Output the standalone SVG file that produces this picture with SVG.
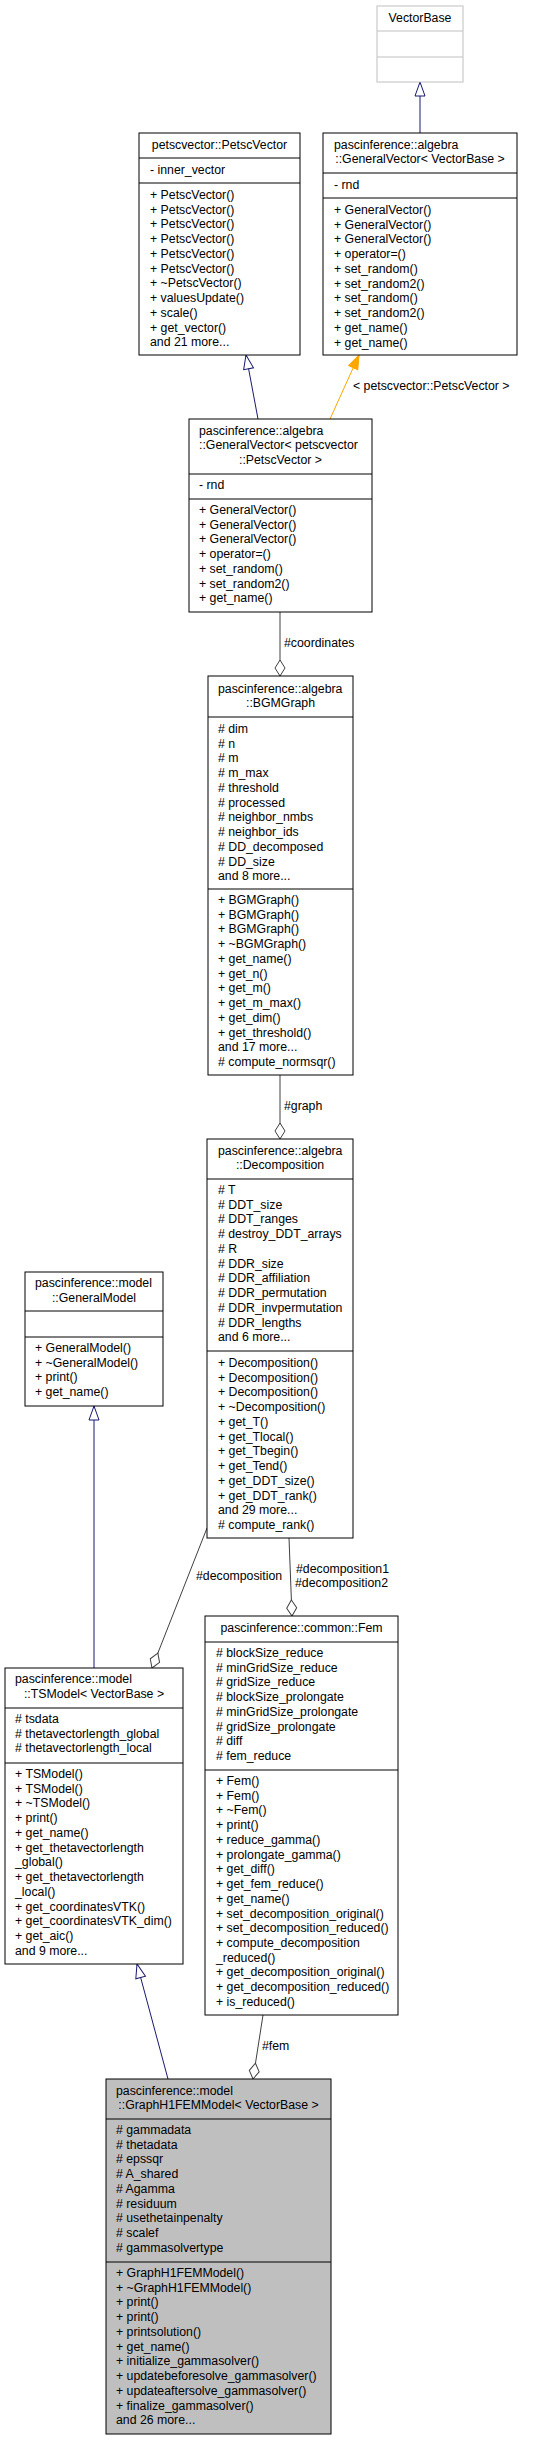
<svg xmlns="http://www.w3.org/2000/svg" width="553" height="2440" viewBox="0 0 553 2440">
<style>
text{font-family:"Liberation Sans",Arial,sans-serif;font-size:12.3px;fill:#000}
.c{text-anchor:middle}
.box{fill:#fff;stroke:#000;stroke-width:1}
.gbox{fill:#fff;stroke:#bfbfbf;stroke-width:1}
.tbox{fill:#bfbfbf;stroke:#000;stroke-width:1}
.div{stroke:#000;stroke-width:1}
.gdiv{stroke:#bfbfbf;stroke-width:1}
.inh{fill:none;stroke:#191970;stroke-width:1;marker-end:url(#mInh)}
.use{fill:none;stroke:#404040;stroke-width:1;marker-end:url(#mDia)}
.tpl{fill:none;stroke:#ffa500;stroke-width:1;marker-end:url(#mTpl)}
</style>
<defs>
<marker id="mInh" viewBox="0 0 14 10" refX="14" refY="5" markerWidth="14" markerHeight="10" markerUnits="userSpaceOnUse" orient="auto" overflow="visible"><path d="M0,0 L14,5 L0,10 Z" fill="#fff" stroke="#191970" stroke-width="1"/></marker>
<marker id="mDia" viewBox="0 0 16 10" refX="16" refY="5" markerWidth="16" markerHeight="10" markerUnits="userSpaceOnUse" orient="auto" overflow="visible"><path d="M0,5 L8,0 L16,5 L8,10 Z" fill="#fff" stroke="#404040" stroke-width="1"/></marker>
<marker id="mTpl" viewBox="0 0 14 10" refX="14" refY="5" markerWidth="14" markerHeight="10" markerUnits="userSpaceOnUse" orient="auto" overflow="visible"><path d="M0,0 L14,5 L0,10 Z" fill="#ffa500" stroke="#ffa500" stroke-width="1"/></marker>
</defs>
<rect width="553" height="2440" fill="#fff"/>

<g id="connectors">
<line class="inh" x1="420" y1="133" x2="420" y2="82"/>
<line class="inh" x1="258" y1="419" x2="246" y2="355"/>
<line class="tpl" x1="330" y1="419" x2="359" y2="355"/>
<text x="353" y="390">&lt; petscvector::PetscVector &gt;</text>
<line class="use" x1="280" y1="612" x2="280" y2="676"/>
<text x="284" y="647">#coordinates</text>
<line class="use" x1="280" y1="1075" x2="280" y2="1139"/>
<text x="284" y="1110">#graph</text>
<line class="inh" x1="94" y1="1668" x2="94" y2="1406"/>
<line class="use" x1="207" y1="1528" x2="152" y2="1668"/>
<text x="196" y="1580">#decomposition</text>
<line class="use" x1="289" y1="1538" x2="292" y2="1616"/>
<text x="296" y="1573">#decomposition1</text>
<text x="295" y="1587">#decomposition2</text>
<line class="inh" x1="168" y1="2079" x2="137" y2="1964"/>
<line class="use" x1="263" y1="2015" x2="253" y2="2079"/>
<text x="262" y="2050">#fem</text>
</g>

<g id="VectorBase">
<rect class="gbox" x="377" y="6" width="86" height="76"/>
<line class="gdiv" x1="377" y1="31" x2="463" y2="31"/>
<line class="gdiv" x1="377" y1="57" x2="463" y2="57"/>
<text class="c" x="420" y="22">VectorBase</text>
</g>

<g id="PetscVector">
<rect class="box" x="139" y="133" width="161" height="222"/>
<text class="c" x="219.5" y="149">petscvector::PetscVector</text>
<line class="div" x1="139" y1="158" x2="300" y2="158"/>
<text x="150" y="174">- inner_vector</text>
<line class="div" x1="139" y1="183" x2="300" y2="183"/>
<text x="150" y="199"><tspan x="150">+ PetscVector()</tspan><tspan x="150" dy="14.73">+ PetscVector()</tspan><tspan x="150" dy="14.73">+ PetscVector()</tspan><tspan x="150" dy="14.73">+ PetscVector()</tspan><tspan x="150" dy="14.73">+ PetscVector()</tspan><tspan x="150" dy="14.73">+ PetscVector()</tspan><tspan x="150" dy="14.73">+ ~PetscVector()</tspan><tspan x="150" dy="14.73">+ valuesUpdate()</tspan><tspan x="150" dy="14.73">+ scale()</tspan><tspan x="150" dy="14.73">+ get_vector()</tspan><tspan x="150" dy="14.73">and 21 more...</tspan></text>
</g>

<g id="GeneralVectorVB">
<rect class="box" x="323" y="133" width="194" height="222"/>
<text x="334" y="149">pascinference::algebra</text>
<text class="c" x="420" y="163">::GeneralVector&lt; VectorBase &gt;</text>
<line class="div" x1="323" y1="173" x2="517" y2="173"/>
<text x="334" y="189">- rnd</text>
<line class="div" x1="323" y1="198" x2="517" y2="198"/>
<text x="334" y="214"><tspan x="334">+ GeneralVector()</tspan><tspan x="334" dy="14.73">+ GeneralVector()</tspan><tspan x="334" dy="14.73">+ GeneralVector()</tspan><tspan x="334" dy="14.73">+ operator=()</tspan><tspan x="334" dy="14.73">+ set_random()</tspan><tspan x="334" dy="14.73">+ set_random2()</tspan><tspan x="334" dy="14.73">+ set_random()</tspan><tspan x="334" dy="14.73">+ set_random2()</tspan><tspan x="334" dy="14.73">+ get_name()</tspan><tspan x="334" dy="14.73">+ get_name()</tspan></text>
</g>

<g id="GeneralVectorPetsc">
<rect class="box" x="189" y="419" width="183" height="193"/>
<text x="199" y="435">pascinference::algebra</text>
<text x="199" y="449">::GeneralVector&lt; petscvector</text>
<text class="c" x="280.5" y="464">::PetscVector &gt;</text>
<line class="div" x1="189" y1="474" x2="372" y2="474"/>
<text x="199" y="489">- rnd</text>
<line class="div" x1="189" y1="499" x2="372" y2="499"/>
<text x="199" y="514"><tspan x="199">+ GeneralVector()</tspan><tspan x="199" dy="14.73">+ GeneralVector()</tspan><tspan x="199" dy="14.73">+ GeneralVector()</tspan><tspan x="199" dy="14.73">+ operator=()</tspan><tspan x="199" dy="14.73">+ set_random()</tspan><tspan x="199" dy="14.73">+ set_random2()</tspan><tspan x="199" dy="14.73">+ get_name()</tspan></text>
</g>

<g id="BGMGraph">
<rect class="box" x="208" y="676" width="145" height="399"/>
<text x="218" y="693">pascinference::algebra</text>
<text class="c" x="280.5" y="707">::BGMGraph</text>
<line class="div" x1="208" y1="717" x2="353" y2="717"/>
<text x="218" y="733"><tspan x="218"># dim</tspan><tspan x="218" dy="14.73"># n</tspan><tspan x="218" dy="14.73"># m</tspan><tspan x="218" dy="14.73"># m_max</tspan><tspan x="218" dy="14.73"># threshold</tspan><tspan x="218" dy="14.73"># processed</tspan><tspan x="218" dy="14.73"># neighbor_nmbs</tspan><tspan x="218" dy="14.73"># neighbor_ids</tspan><tspan x="218" dy="14.73"># DD_decomposed</tspan><tspan x="218" dy="14.73"># DD_size</tspan><tspan x="218" dy="14.73">and 8 more...</tspan></text>
<line class="div" x1="208" y1="889" x2="353" y2="889"/>
<text x="218" y="904"><tspan x="218">+ BGMGraph()</tspan><tspan x="218" dy="14.73">+ BGMGraph()</tspan><tspan x="218" dy="14.73">+ BGMGraph()</tspan><tspan x="218" dy="14.73">+ ~BGMGraph()</tspan><tspan x="218" dy="14.73">+ get_name()</tspan><tspan x="218" dy="14.73">+ get_n()</tspan><tspan x="218" dy="14.73">+ get_m()</tspan><tspan x="218" dy="14.73">+ get_m_max()</tspan><tspan x="218" dy="14.73">+ get_dim()</tspan><tspan x="218" dy="14.73">+ get_threshold()</tspan><tspan x="218" dy="14.73">and 17 more...</tspan><tspan x="218" dy="14.73"># compute_normsqr()</tspan></text>
</g>

<g id="Decomposition">
<rect class="box" x="207" y="1139" width="146" height="399"/>
<text x="218" y="1155">pascinference::algebra</text>
<text class="c" x="280" y="1169">::Decomposition</text>
<line class="div" x1="207" y1="1179" x2="353" y2="1179"/>
<text x="218" y="1194"><tspan x="218"># T</tspan><tspan x="218" dy="14.73"># DDT_size</tspan><tspan x="218" dy="14.73"># DDT_ranges</tspan><tspan x="218" dy="14.73"># destroy_DDT_arrays</tspan><tspan x="218" dy="14.73"># R</tspan><tspan x="218" dy="14.73"># DDR_size</tspan><tspan x="218" dy="14.73"># DDR_affiliation</tspan><tspan x="218" dy="14.73"># DDR_permutation</tspan><tspan x="218" dy="14.73"># DDR_invpermutation</tspan><tspan x="218" dy="14.73"># DDR_lengths</tspan><tspan x="218" dy="14.73">and 6 more...</tspan></text>
<line class="div" x1="207" y1="1351" x2="353" y2="1351"/>
<text x="218" y="1367"><tspan x="218">+ Decomposition()</tspan><tspan x="218" dy="14.73">+ Decomposition()</tspan><tspan x="218" dy="14.73">+ Decomposition()</tspan><tspan x="218" dy="14.73">+ ~Decomposition()</tspan><tspan x="218" dy="14.73">+ get_T()</tspan><tspan x="218" dy="14.73">+ get_Tlocal()</tspan><tspan x="218" dy="14.73">+ get_Tbegin()</tspan><tspan x="218" dy="14.73">+ get_Tend()</tspan><tspan x="218" dy="14.73">+ get_DDT_size()</tspan><tspan x="218" dy="14.73">+ get_DDT_rank()</tspan><tspan x="218" dy="14.73">and 29 more...</tspan><tspan x="218" dy="14.73"># compute_rank()</tspan></text>
</g>

<g id="GeneralModel">
<rect class="box" x="25" y="1272" width="138" height="134"/>
<text x="35" y="1287">pascinference::model</text>
<text class="c" x="94" y="1302">::GeneralModel</text>
<line class="div" x1="25" y1="1311" x2="163" y2="1311"/>
<line class="div" x1="25" y1="1337" x2="163" y2="1337"/>
<text x="35" y="1352"><tspan x="35">+ GeneralModel()</tspan><tspan x="35" dy="14.73">+ ~GeneralModel()</tspan><tspan x="35" dy="14.73">+ print()</tspan><tspan x="35" dy="14.73">+ get_name()</tspan></text>
</g>

<g id="Fem">
<rect class="box" x="205" y="1616" width="193" height="399"/>
<text class="c" x="301.5" y="1632">pascinference::common::Fem</text>
<line class="div" x1="205" y1="1642" x2="398" y2="1642"/>
<text x="216" y="1657"><tspan x="216"># blockSize_reduce</tspan><tspan x="216" dy="14.73"># minGridSize_reduce</tspan><tspan x="216" dy="14.73"># gridSize_reduce</tspan><tspan x="216" dy="14.73"># blockSize_prolongate</tspan><tspan x="216" dy="14.73"># minGridSize_prolongate</tspan><tspan x="216" dy="14.73"># gridSize_prolongate</tspan><tspan x="216" dy="14.73"># diff</tspan><tspan x="216" dy="14.73"># fem_reduce</tspan></text>
<line class="div" x1="205" y1="1770" x2="398" y2="1770"/>
<text x="216" y="1785"><tspan x="216">+ Fem()</tspan><tspan x="216" dy="14.73">+ Fem()</tspan><tspan x="216" dy="14.73">+ ~Fem()</tspan><tspan x="216" dy="14.73">+ print()</tspan><tspan x="216" dy="14.73">+ reduce_gamma()</tspan><tspan x="216" dy="14.73">+ prolongate_gamma()</tspan><tspan x="216" dy="14.73">+ get_diff()</tspan><tspan x="216" dy="14.73">+ get_fem_reduce()</tspan><tspan x="216" dy="14.73">+ get_name()</tspan><tspan x="216" dy="14.73">+ set_decomposition_original()</tspan><tspan x="216" dy="14.73">+ set_decomposition_reduced()</tspan><tspan x="216" dy="14.73">+ compute_decomposition</tspan><tspan x="216" dy="14.73">_reduced()</tspan><tspan x="216" dy="14.73">+ get_decomposition_original()</tspan><tspan x="216" dy="14.73">+ get_decomposition_reduced()</tspan><tspan x="216" dy="14.73">+ is_reduced()</tspan></text>
</g>

<g id="TSModel">
<rect class="box" x="5" y="1668" width="178" height="296"/>
<text x="15" y="1683">pascinference::model</text>
<text class="c" x="94" y="1698">::TSModel&lt; VectorBase &gt;</text>
<line class="div" x1="5" y1="1708" x2="183" y2="1708"/>
<text x="15" y="1723"><tspan x="15"># tsdata</tspan><tspan x="15" dy="14.73"># thetavectorlength_global</tspan><tspan x="15" dy="14.73"># thetavectorlength_local</tspan></text>
<line class="div" x1="5" y1="1763" x2="183" y2="1763"/>
<text x="15" y="1778"><tspan x="15">+ TSModel()</tspan><tspan x="15" dy="14.73">+ TSModel()</tspan><tspan x="15" dy="14.73">+ ~TSModel()</tspan><tspan x="15" dy="14.73">+ print()</tspan><tspan x="15" dy="14.73">+ get_name()</tspan><tspan x="15" dy="14.73">+ get_thetavectorlength</tspan><tspan x="15" dy="14.73">_global()</tspan><tspan x="15" dy="14.73">+ get_thetavectorlength</tspan><tspan x="15" dy="14.73">_local()</tspan><tspan x="15" dy="14.73">+ get_coordinatesVTK()</tspan><tspan x="15" dy="14.73">+ get_coordinatesVTK_dim()</tspan><tspan x="15" dy="14.73">+ get_aic()</tspan><tspan x="15" dy="14.73">and 9 more...</tspan></text>
</g>

<g id="GraphH1FEMModel">
<rect class="tbox" x="106" y="2079" width="225" height="355"/>
<text x="116" y="2095">pascinference::model</text>
<text class="c" x="218.5" y="2109">::GraphH1FEMModel&lt; VectorBase &gt;</text>
<line class="div" x1="106" y1="2119" x2="331" y2="2119"/>
<text x="116" y="2134"><tspan x="116"># gammadata</tspan><tspan x="116" dy="14.73"># thetadata</tspan><tspan x="116" dy="14.73"># epssqr</tspan><tspan x="116" dy="14.73"># A_shared</tspan><tspan x="116" dy="14.73"># Agamma</tspan><tspan x="116" dy="14.73"># residuum</tspan><tspan x="116" dy="14.73"># usethetainpenalty</tspan><tspan x="116" dy="14.73"># scalef</tspan><tspan x="116" dy="14.73"># gammasolvertype</tspan></text>
<line class="div" x1="106" y1="2262" x2="331" y2="2262"/>
<text x="116" y="2277"><tspan x="116">+ GraphH1FEMModel()</tspan><tspan x="116" dy="14.73">+ ~GraphH1FEMModel()</tspan><tspan x="116" dy="14.73">+ print()</tspan><tspan x="116" dy="14.73">+ print()</tspan><tspan x="116" dy="14.73">+ printsolution()</tspan><tspan x="116" dy="14.73">+ get_name()</tspan><tspan x="116" dy="14.73">+ initialize_gammasolver()</tspan><tspan x="116" dy="14.73">+ updatebeforesolve_gammasolver()</tspan><tspan x="116" dy="14.73">+ updateaftersolve_gammasolver()</tspan><tspan x="116" dy="14.73">+ finalize_gammasolver()</tspan><tspan x="116" dy="14.73">and 26 more...</tspan></text>
</g>
</svg>
